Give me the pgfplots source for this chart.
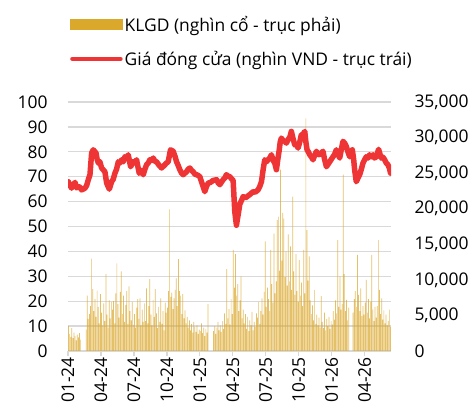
\documentclass[border=0pt]{standalone}
\usepackage{pgfplots}
\pgfplotsset{compat=1.18}
\usepackage{pgfplotstable}
\usepackage{fontspec}
\setmainfont{Open Sans}
\definecolor{gold}{HTML}{DAA92C}
\definecolor{barc}{HTML}{D9A62A}
\definecolor{redl}{HTML}{EE3434}
\definecolor{gridc}{HTML}{D9D9D9}

% daily-ish traded volume (thousand shares), one value every ~2 trading days
\pgfplotstableread[row sep=\\]{v\\
3500\\2400\\2000\\3200\\1800\\2600\\2100\\1500\\2300\\1900\\
2500\\1600\\0\\0\\0\\0\\3000\\7800\\4500\\5200\\
6300\\13000\\8700\\5600\\7300\\4800\\8500\\6200\\3900\\8000\\
5400\\3600\\6700\\4200\\10800\\5100\\3300\\7100\\4600\\6900\\
5800\\7000\\3900\\8100\\12300\\6600\\4700\\8300\\11200\\5200\\
7800\\4100\\6500\\8400\\3800\\9100\\5600\\4300\\6900\\3700\\
5200\\3300\\6100\\7300\\4500\\7400\\3600\\5800\\4100\\6700\\
4200\\8800\\3900\\6300\\10100\\5100\\3600\\7200\\4800\\8700\\
5300\\3200\\6200\\4100\\7400\\3800\\5600\\2900\\6800\\5400\\
6100\\8400\\19900\\7600\\8200\\5900\\7400\\8600\\10200\\6300\\
12900\\8400\\7800\\5200\\8000\\4600\\5700\\3900\\4800\\3300\\
4300\\2900\\3800\\2600\\4100\\3400\\2700\\3600\\2400\\3000\\
2800\\3900\\2500\\3300\\2100\\3100\\2600\\6600\\0\\0\\
0\\0\\2800\\3500\\2400\\3300\\4100\\2900\\3600\\2700\\
4200\\3100\\5300\\3800\\11500\\4600\\5900\\3700\\7300\\5200\\
14200\\8900\\13600\\7800\\9400\\5600\\7100\\10500\\4600\\5800\\
3900\\5200\\3100\\4800\\2800\\4300\\3600\\5500\\2900\\4100\\
3400\\5300\\4700\\6900\\3800\\5600\\7400\\5100\\8300\\15400\\
6200\\8900\\7300\\5600\\14200\\9400\\6800\\16500\\8100\\9800\\
18400\\18900\\11300\\25500\\12700\\19400\\18600\\10400\\14000\\9200\\
16400\\9800\\14700\\8600\\21700\\11200\\7900\\13600\\8400\\6900\\
12800\\7800\\9600\\6300\\14200\\8100\\32700\\17000\\9900\\13300\\
7100\\5200\\6400\\4300\\8600\\3800\\5100\\3600\\4700\\3300\\
7700\\4100\\3200\\5400\\2900\\4500\\3500\\4800\\3100\\4200\\
3700\\5600\\4400\\7100\\5300\\15600\\6200\\10500\\5800\\6600\\
24800\\10800\\5600\\7200\\4300\\6100\\0\\0\\0\\5400\\
7300\\8400\\6200\\13500\\7900\\5600\\8800\\4900\\6300\\5100\\
6800\\10000\\5400\\7300\\4600\\6900\\13500\\5800\\4200\\6200\\
4700\\6300\\15600\\8600\\5200\\7400\\4400\\5700\\3900\\5100\\
3600\\4200\\5800\\3400\\
}\vol

\pgfplotsset{
  base/.style={scale only axis, width=323bp, height=249bp,
    xmin=0, xmax=29.4,
    every tick label/.append style={font=\fontsize{17.5}{20}\selectfont},
    /pgf/number format/assume math mode=true},
}

\begin{document}
\begin{tikzpicture}
\path[use as bounding box] (-68bp,-62bp) rectangle (406bp,351bp);

% grid, x axis and left axis
\begin{axis}[base,
  ymin=0, ymax=100, ytick={0,10,...,100},
  ymajorgrids, grid style={gridc, line width=1.3bp},
  axis x line*=bottom, axis y line*=left,
  y axis line style={draw=none}, ytick style={draw=none},
  x axis line style={gridc, line width=1.3bp},
  xtick={0,3,...,27},
  xticklabels={01-24,04-24,07-24,10-24,01-25,04-25,07-25,10-25,01-26,04-26},
  xtick style={gridc, line width=1.3bp},
  tick align=outside, major tick length=5bp,
  xticklabel style={rotate=90, anchor=east, inner sep=1bp},
  yticklabel style={xshift=-12bp},
]
\end{axis}

% volume, right axis
\begin{axis}[base,
  ymin=0, ymax=35000, ytick={0,5000,...,35000},
  axis x line=none, axis y line*=right,
  y axis line style={draw=none}, ytick style={draw=none},
  scaled y ticks=false,
  yticklabel style={/pgf/number format/1000 sep={,}, xshift=20bp},
]
\addplot[ybar, bar width=0.7bp, fill=barc, draw=none, fill opacity=0.7]
  table[x expr=\coordindex*0.1+0.05, y=v] {\vol};
\end{axis}

% closing price, left axis scale
\begin{axis}[base,
  ymin=0, ymax=100, hide axis,
  legend style={at={(0,1)}, anchor=south west, xshift=2bp, yshift=33bp,
    draw=none, fill=none, inner sep=0pt, row sep=14bp,
    font=\fontsize{17.5}{20}\selectfont,
    nodes={inner sep=2bp, anchor=west}},
  legend cell align=left,
]
\addlegendimage{legend image code/.code={\fill[gold] (0bp,-5bp) rectangle (52bp,5bp);}}
\addlegendentry{KLGD (nghìn cổ - trục phải)}
\addplot[redl, line width=5.5bp, line join=round, line cap=round,
  legend image code/.code={\draw[redl, line width=4.5bp, line cap=round] (2bp,0bp) -- (50bp,0bp);}]
coordinates {
(0.03,68) (0.18,66.5) (0.33,65.4) (0.48,66.8) (0.64,67.7) (0.79,65.5) (0.94,66) (1.09,65.8) (1.24,64.7) (1.55,65.4) (1.70,66.5) (1.85,68.8)
(2.0,70.8) (2.15,79.5) (2.30,80.8) (2.55,79.5) (2.65,77) (2.76,75.5) (2.9,76) (3.06,73.5) (3.2,72.8) (3.36,72)
(3.52,67.4) (3.76,65) (3.97,68) (4.12,69) (4.27,71.4) (4.42,73) (4.58,76) (4.72,75.5) (4.88,76.8) (5.03,76) (5.18,78)
(5.35,77.5) (5.48,78.8) (5.70,74) (5.82,75) (5.94,76) (6.1,75.8) (6.24,76.8) (6.48,71.4) (6.65,72.5) (6.85,70.8) (7.0,73) (7.15,74.8)
(7.3,75.5) (7.45,76.8) (7.6,76.5) (7.76,77.5) (7.9,76.2) (8.06,76) (8.3,74.5) (8.52,73.5) (8.82,74.8) (8.97,75.5) (9.12,76) (9.33,80.8)
(9.58,80.2) (9.75,78) (9.88,76) (10.03,74.5) (10.18,72.8) (10.33,71.5) (10.48,70.8) (10.79,72) (10.94,73) (11.09,73.5) (11.25,72.5) (11.39,72)
(11.55,71) (11.70,70.8) (11.85,70.5) (12.0,70) (12.15,68) (12.30,66) (12.45,64) (12.6,66) (12.76,67.4) (13.0,67.8) (13.21,68.5) (13.52,68.8)
(13.67,67.5) (13.82,66.8) (13.97,67.8) (14.12,68.8) (14.27,69.5) (14.42,70.8) (14.58,70.2) (14.73,70) (14.88,69.2) (15.03,68.5) (15.18,56)
(15.33,50.5) (15.48,54.5) (15.64,59) (15.8,60.5) (15.94,62) (16.15,61.5) (16.39,62.3) (16.6,63) (16.85,64) (17.05,63.8) (17.3,64.7) (17.45,66)
(17.61,68) (17.76,72.8) (17.91,76.8) (18.06,76) (18.21,76.8) (18.36,77.5) (18.52,78.8) (18.67,76.5) (18.82,75.5)
(18.97,72.8) (19.1,77) (19.21,80.2) (19.32,84) (19.42,85.5) (19.58,84.5) (19.73,84.2) (19.88,83.5) (20.03,84.9) (20.2,86) (20.33,88.2)
(20.5,85) (20.64,82.8) (20.8,83) (20.94,81.5) (21.1,84) (21.24,86.9) (21.4,87) (21.55,88.2) (21.65,84) (21.76,80.8) (21.88,80) (22.0,78.8)
(22.15,78) (22.3,76.8) (22.45,78.5) (22.61,80.2) (22.76,79) (22.91,78.8) (23.05,79.5) (23.21,80.2) (23.35,77) (23.52,74) (23.67,75) (23.82,76) (23.97,77) (24.12,78)
(24.27,79) (24.42,80.8) (24.57,79) (24.73,77.5) (24.88,81) (25.03,84.2) (25.18,83.5) (25.33,82.2) (25.48,80) (25.64,78) (25.76,79.5) (25.88,80.8)
(26.0,77) (26.09,72.8) (26.24,68) (26.4,69.5) (26.55,70.8) (26.7,73) (26.85,75.5) (27.0,76.8) (27.15,78) (27.3,77.5) (27.45,78.8) (27.6,78)
(27.76,78.8) (27.9,77.5) (28.06,78) (28.17,79.5) (28.27,81) (28.4,79) (28.52,77.5) (28.67,77.8) (28.82,76.8) (28.97,75.5) (29.12,74.8) (29.25,73.5) (29.36,71.4)
};
\addlegendentry{Giá đóng cửa (nghìn VND - trục trái)}
\end{axis}
\end{tikzpicture}
\end{document}
